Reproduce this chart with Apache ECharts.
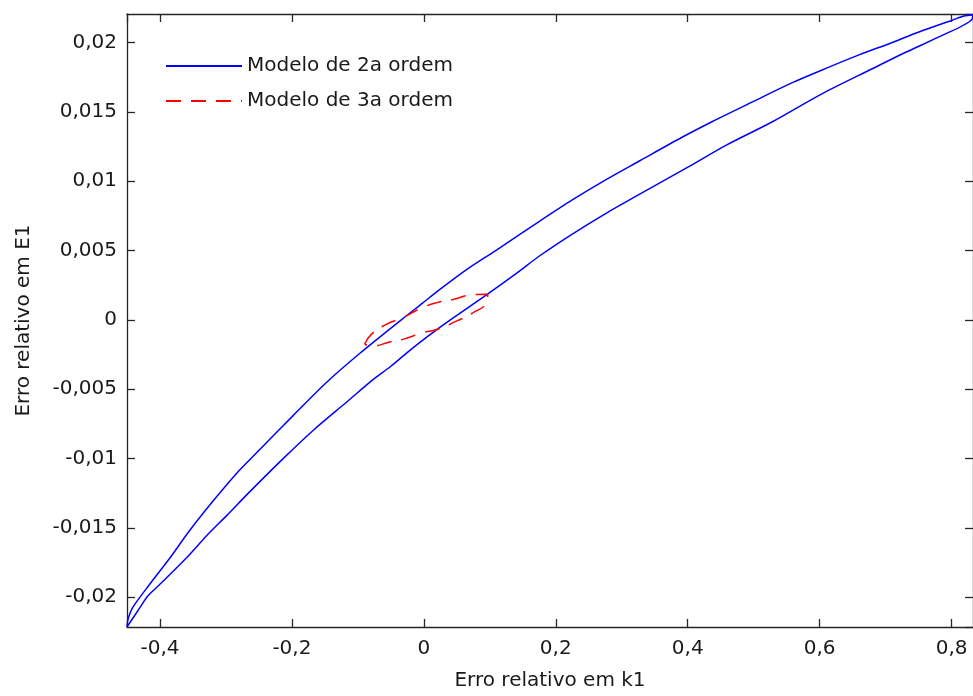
<!DOCTYPE html>
<html>
<head>
<meta charset="utf-8">
<script src="https://cdn.jsdelivr.net/npm/echarts@6/dist/echarts.min.js"></script>
<style>
  html, body { margin: 0; padding: 0; background: #fff; }
  #chart { width: 973px; height: 696px; }
</style>
</head>
<body>
<div id="chart"></div>
<script>
// Tick values shown on the axes
const xTicks = [-0.4, -0.2, 0, 0.2, 0.4, 0.6, 0.8];
const yTicks = [-0.02, -0.015, -0.01, -0.005, 0, 0.005, 0.01, 0.015, 0.02];

// Second-order model: upper branch, k1 error rising
const upperK1 = [-0.450, -0.4485, -0.441, -0.4153, -0.385, -0.3567, -0.3199, -0.2836, -0.2558, -0.1978,
  -0.1473, -0.0969, -0.0342, -0.0015, 0.0238, 0.0642, 0.1101, 0.1752, 0.2256, 0.2762, 0.3266,
  0.3921, 0.4375, 0.4981, 0.5587, 0.6142, 0.6597, 0.7101, 0.7505, 0.8009, 0.8186, 0.832];
const upperE1 = [-0.02215, -0.0216, -0.02072, -0.01905, -0.01718, -0.01530, -0.01309, -0.01106, -0.00970, -0.00689,
  -0.00450, -0.00241, 0.0, 0.00122, 0.00217, 0.0036, 0.00503, 0.00710, 0.00866, 0.01011, 0.01145,
  0.01318, 0.01430, 0.01571, 0.01710, 0.01822, 0.01910, 0.02000, 0.02075, 0.02160, 0.0219, 0.0220];

// Second-order model: lower branch, k1 error falling
const lowerK1 = [0.8312, 0.7808, 0.7304, 0.6798, 0.6041, 0.5284, 0.4578, 0.4023, 0.3266, 0.2762,
  0.2256, 0.1752, 0.1403, 0.0949, 0.0268, -0.0161, -0.0500, -0.0766, -0.1170, -0.1675, -0.2129,
  -0.2634, -0.2987, -0.3290, -0.3593, -0.3997, -0.4188, -0.4300, -0.450];
const lowerE1 = [0.02168, 0.02040, 0.01929, 0.01810, 0.01631, 0.01428, 0.01258, 0.01106, 0.00904, 0.00768,
  0.00620, 0.00460, 0.00335, 0.00180, -0.00045, -0.00200, -0.00335, -0.00430, -0.00593, -0.00796, -0.00999,
  -0.01237, -0.01410, -0.01555, -0.01714, -0.01905, -0.01993, -0.02072, -0.02215];

// Third-order model: closed loop around the origin
const loopK1 = [-0.0898, -0.0796, -0.0569, -0.0318, -0.0065, 0.0188, 0.0439, 0.0742, 0.0969,
  0.0945, 0.0742, 0.0491, 0.0238, -0.0015, -0.0318, -0.0519, -0.0772, -0.0898];
const loopE1 = [-0.00176, -0.00105, -0.00033, 0.00015, 0.00079, 0.00122, 0.00146, 0.00181, 0.00185,
  0.00122, 0.00050, -0.00010, -0.00064, -0.00093, -0.00141, -0.00160, -0.00188, -0.00176];

const zip = (a, b) => a.map((v, i) => [v, b[i]]);
const secondOrder = zip(upperK1, upperE1).concat(zip(lowerK1, lowerE1));
const thirdOrder = zip(loopK1, loopE1);

const FONT = 'DejaVu Sans';
const INK = '#1a1a1a';
const AXIS = '#262626';

function tickFormatter(ticks) {
  return function (v) {
    const t = ticks.find(function (t) { return Math.abs(t - v) < 1e-9; });
    return t === undefined ? '' : String(t).replace('.', ',');
  };
}

function makeAxis(pos, ticks, step, extent, showLabels, name, gap) {
  const ax = {
    type: 'value',
    position: pos,
    min: extent[0],
    max: extent[1],
    splitNumber: Math.round((extent[1] - extent[0]) / step),
    minInterval: step,
    maxInterval: step,
    axisLine: { show: true, onZero: false, lineStyle: { color: AXIS, width: 1.3 } },
    axisTick: { show: true, inside: true, length: 8, lineStyle: { color: AXIS, width: 1.3 } },
    axisLabel: {
      show: showLabels,
      formatter: tickFormatter(ticks),
      fontFamily: FONT, fontSize: 20, color: INK,
      margin: (pos === 'bottom') ? 12 : 10,
      showMinLabel: false, showMaxLabel: false
    },
    splitLine: { show: false }
  };
  if (name) {
    ax.name = name;
    ax.nameLocation = 'middle';
    ax.nameGap = gap;
    ax.nameTextStyle = { fontFamily: FONT, fontSize: 20, color: INK };
    if (pos === 'left') ax.nameRotate = 90;
  }
  return ax;
}

const xExtent = [-0.450, 0.8325];
const yExtent = [-0.02215, 0.02205];

const chart = echarts.init(document.getElementById('chart'), null, { renderer: 'canvas' });
chart.setOption({
  animation: false,
  backgroundColor: '#ffffff',
  textStyle: { fontFamily: FONT },
  grid: { left: 127, top: 14, width: 847, height: 616, containLabel: false },
  xAxis: [
    makeAxis('bottom', xTicks, 0.2, xExtent, true, 'Erro relativo em k1', 44),
    makeAxis('top', xTicks, 0.2, xExtent, false)
  ],
  yAxis: [
    makeAxis('left', yTicks, 0.005, yExtent, true, 'Erro relativo em E1', 93),
    makeAxis('right', yTicks, 0.005, yExtent, false)
  ],
  legend: {
    orient: 'vertical',
    left: 165, top: 56,
    padding: 0,
    itemWidth: 76, itemHeight: 14, itemGap: 15,
    itemStyle: { opacity: 0 },
    textStyle: { fontFamily: FONT, fontSize: 20, color: INK, lineHeight: 20 },
    data: ['Modelo de 2a ordem', 'Modelo de 3a ordem']
  },
  series: [
    {
      name: 'Modelo de 2a ordem',
      type: 'line',
      xAxisIndex: 0, yAxisIndex: 0,
      data: secondOrder,
      symbol: 'none',
      smooth: 0.3,
      lineStyle: { color: '#0000ff', width: 1.5 },
      itemStyle: { color: '#0000ff' }
    },
    {
      name: 'Modelo de 3a ordem',
      type: 'line',
      xAxisIndex: 0, yAxisIndex: 0,
      data: thirdOrder,
      symbol: 'none',
      smooth: 0.5,
      lineStyle: { color: '#ff0000', width: 1.5, type: [15, 10] },
      itemStyle: { color: '#ff0000' }
    }
  ]
});
</script>
</body>
</html>
